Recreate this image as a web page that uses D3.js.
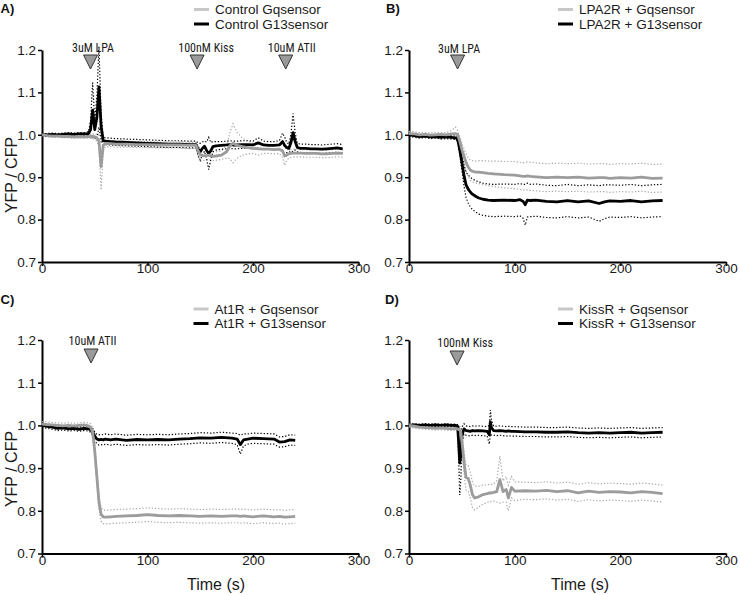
<!DOCTYPE html>
<html><head><meta charset="utf-8">
<script src="https://cdn.jsdelivr.net/npm/d3@7"></script>
<style>
body{margin:0;background:#fff;}
svg{display:block;font-family:"Liberation Sans",Arial,Helvetica,sans-serif;}
</style></head><body>
<svg id="chart" width="740" height="595"></svg>
<script>
// ---------------- DATA ----------------
const xTicks = [0, 100, 200, 300];
const yTicks = [0.7, 0.8, 0.9, 1.0, 1.1, 1.2];

// Panel A: Control
const timeA = [0,5,10,15,20,25,30,35,40,44,46,48,50,52,54,56,58,60,65,70,80,90,100,110,120,130,140,146,148,150,152,154,156,158,160,162,165,170,175,178,181,185,190,195,200,205,210,215,220,225,228,230,232,234,236,238,240,242,245,250,255,260,265,270,275,280,285];
const ctrlG13 = [1.000,1.000,1.001,1.000,1.001,1.002,1.001,1.002,1.002,
 1.003,1.012,1.058,1.012,1.040,1.113,1.020,0.986,0.985,
 0.984,0.983,0.982,0.981,0.980,0.979,0.978,0.978,0.977,
 0.977,0.966,0.960,0.968,0.973,0.963,0.956,0.962,0.972,
 0.974,0.975,0.976,0.977,0.976,0.976,0.977,0.977,0.976,
 0.981,0.976,0.975,0.975,0.976,0.984,0.975,0.970,0.968,
 0.982,1.005,0.984,0.970,0.968,0.968,0.967,0.967,0.966,
 0.967,0.968,0.969,0.967];
const ctrlG13Sem = [0.003,0.003,0.003,0.003,0.003,0.003,0.003,0.003,0.003,
 0.004,0.020,0.065,0.020,0.050,0.095,0.030,0.010,0.008,
 0.008,0.008,0.008,0.008,0.008,0.008,0.008,0.008,0.008,
 0.008,0.015,0.020,0.015,0.012,0.020,0.038,0.020,0.012,
 0.010,0.009,0.009,0.009,0.009,0.009,0.009,0.009,0.009,
 0.012,0.009,0.009,0.009,0.010,0.020,0.020,0.012,0.010,
 0.020,0.045,0.020,0.010,0.010,0.010,0.010,0.010,0.010,
 0.010,0.010,0.010,0.010];
const ctrlGq = [1.000,0.998,0.997,0.997,0.996,0.996,0.995,0.996,0.995,
 0.996,0.997,0.997,0.995,0.993,0.985,0.925,0.975,0.980,
 0.979,0.978,0.978,0.977,0.977,0.976,0.976,0.976,0.975,
 0.975,0.962,0.953,0.951,0.950,0.951,0.952,0.950,0.949,
 0.950,0.952,0.960,0.974,0.980,0.975,0.972,0.970,0.968,
 0.967,0.966,0.966,0.965,0.966,0.962,0.950,0.952,0.955,
 0.956,0.957,0.957,0.957,0.957,0.956,0.956,0.956,0.955,
 0.955,0.956,0.957,0.956];
const ctrlGqSem = [0.003,0.003,0.003,0.003,0.003,0.003,0.003,0.003,0.003,
 0.004,0.005,0.006,0.006,0.008,0.015,0.055,0.015,0.008,
 0.007,0.007,0.007,0.007,0.007,0.007,0.007,0.007,0.007,
 0.007,0.012,0.015,0.012,0.010,0.010,0.010,0.010,0.010,
 0.010,0.010,0.015,0.030,0.046,0.030,0.020,0.015,0.012,
 0.015,0.010,0.010,0.010,0.010,0.015,0.022,0.012,0.010,
 0.009,0.009,0.009,0.009,0.009,0.009,0.009,0.009,0.009,
 0.009,0.009,0.009,0.009];
const annoTimesA = [46, 147, 231];
const annoLabelsA = ["3uM LPA", "100nM Kiss", "10uM ATII"];

// Panel B: LPA2R
const timeB = [0,5,10,15,20,25,30,35,40,44,46,48,50,52,54,56,58,60,63,66,70,75,80,90,100,105,108,110,112,115,120,130,140,150,160,170,180,185,190,200,210,220,230,240];
const lpaG13 = [1.000,0.998,0.996,0.997,0.995,0.996,0.994,0.995,0.994,
 0.993,0.990,0.965,0.935,0.905,0.882,0.872,0.865,0.860,
 0.855,0.851,0.848,0.846,0.845,0.846,0.845,0.847,0.843,
 0.835,0.846,0.845,0.846,0.843,0.842,0.845,0.842,0.844,
 0.838,0.842,0.844,0.843,0.845,0.842,0.844,0.845];
const lpaG13Sem = [0.004,0.004,0.004,0.004,0.004,0.004,0.004,0.004,0.004,
 0.004,0.005,0.010,0.018,0.025,0.030,0.033,0.035,0.036,
 0.037,0.038,0.038,0.038,0.038,0.038,0.038,0.038,0.040,
 0.048,0.040,0.038,0.038,0.038,0.038,0.038,0.038,0.038,
 0.042,0.040,0.038,0.038,0.038,0.038,0.038,0.038];
const lpaGq = [1.003,1.002,1.000,1.001,0.999,1.000,1.001,1.000,1.002,
 1.003,1.000,0.985,0.965,0.950,0.935,0.924,0.917,0.914,
 0.912,0.912,0.911,0.909,0.908,0.906,0.905,0.903,0.902,
 0.902,0.903,0.902,0.901,0.899,0.900,0.899,0.900,0.898,
 0.899,0.899,0.897,0.899,0.898,0.900,0.897,0.898];
const lpaGqSem = [0.005,0.005,0.005,0.005,0.005,0.005,0.005,0.005,0.008,
 0.015,0.010,0.012,0.015,0.018,0.020,0.022,0.024,0.025,
 0.026,0.027,0.028,0.029,0.030,0.031,0.032,0.032,0.032,
 0.033,0.033,0.033,0.033,0.033,0.033,0.033,0.033,0.033,
 0.033,0.033,0.033,0.033,0.033,0.033,0.033,0.033];
const annoTimesB = [46];
const annoLabelsB = ["3uM LPA"];

// Panel C: At1R
const timeC = [0,5,10,15,20,25,30,35,40,44,46,48,50,52,54,56,58,60,65,70,80,90,100,110,120,130,140,150,160,170,180,185,188,191,195,200,210,220,225,230,235,240];
const atG13 = [1.000,0.998,0.996,0.993,0.994,0.992,0.993,0.991,0.993,
 0.992,0.990,0.985,0.975,0.968,0.966,0.967,0.966,0.968,
 0.966,0.968,0.965,0.967,0.966,0.967,0.966,0.968,0.969,
 0.971,0.970,0.972,0.970,0.968,0.955,0.966,0.968,0.970,
 0.969,0.968,0.961,0.962,0.966,0.965];
const atG13Sem = [0.005,0.005,0.005,0.005,0.005,0.005,0.005,0.005,0.005,
 0.005,0.006,0.008,0.010,0.011,0.012,0.012,0.012,0.012,
 0.012,0.012,0.012,0.012,0.012,0.012,0.012,0.012,0.012,
 0.012,0.012,0.012,0.012,0.013,0.022,0.014,0.012,0.012,
 0.012,0.012,0.012,0.012,0.012,0.012];
const atGq = [1.003,1.002,1.001,1.000,0.999,1.000,0.999,1.000,1.001,
 0.999,0.996,0.985,0.940,0.880,0.820,0.792,0.786,0.785,
 0.786,0.787,0.788,0.789,0.791,0.789,0.788,0.789,0.788,
 0.787,0.788,0.787,0.788,0.788,0.787,0.788,0.787,0.786,
 0.788,0.786,0.787,0.785,0.786,0.787];
const atGqSem = [0.006,0.006,0.006,0.006,0.006,0.006,0.006,0.006,0.006,
 0.007,0.008,0.010,0.012,0.014,0.015,0.016,0.016,0.016,
 0.016,0.016,0.016,0.016,0.016,0.016,0.016,0.016,0.016,
 0.016,0.016,0.016,0.016,0.016,0.016,0.016,0.016,0.016,
 0.016,0.016,0.016,0.016,0.016,0.016];
const annoTimesC = [46.5];
const annoLabelsC = ["10uM ATII"];

// Panel D: KissR
const timeD = [0,5,10,15,20,25,30,35,40,44,46,47,48,49,50,52,54,56,58,60,62,65,70,74,76,77,78,80,83,86,89,92,94,97,100,110,120,130,140,150,160,170,180,190,200,210,220,230,240];
const kissG13 = [1.000,1.001,1.000,1.001,1.000,1.001,1.000,1.001,1.000,
 1.000,0.998,0.960,0.912,0.930,0.975,0.992,0.988,0.987,
 0.986,0.988,0.987,0.988,0.987,0.986,0.978,1.008,0.995,
 0.988,0.987,0.988,0.987,0.986,0.987,0.986,0.986,0.985,
 0.985,0.984,0.984,0.985,0.983,0.982,0.983,0.982,0.983,
 0.984,0.982,0.983,0.984];
const kissG13Sem = [0.003,0.003,0.003,0.003,0.003,0.003,0.003,0.003,0.003,
 0.003,0.004,0.040,0.075,0.060,0.020,0.012,0.011,0.011,
 0.011,0.011,0.011,0.011,0.011,0.011,0.022,0.028,0.018,
 0.011,0.011,0.011,0.011,0.011,0.011,0.011,0.011,0.011,
 0.011,0.011,0.011,0.011,0.011,0.011,0.011,0.011,0.011,
 0.011,0.011,0.011,0.011];
const kissGq = [1.000,0.998,0.996,0.995,0.994,0.993,0.994,0.993,0.992,
 0.993,0.992,0.990,0.990,0.985,0.965,0.915,0.878,0.876,
 0.860,0.838,0.830,0.832,0.838,0.840,0.842,0.841,0.842,
 0.843,0.845,0.873,0.845,0.850,0.830,0.855,0.846,0.847,
 0.846,0.848,0.845,0.847,0.842,0.846,0.843,0.845,0.844,
 0.842,0.845,0.843,0.840];
const kissGqSem = [0.004,0.004,0.004,0.004,0.004,0.004,0.004,0.004,0.004,
 0.004,0.005,0.006,0.008,0.010,0.015,0.025,0.030,0.030,
 0.030,0.030,0.028,0.025,0.022,0.021,0.020,0.020,0.020,
 0.020,0.025,0.055,0.025,0.030,0.030,0.025,0.022,0.020,
 0.020,0.020,0.020,0.020,0.020,0.020,0.020,0.020,0.020,
 0.020,0.020,0.020,0.020];
const annoTimesD = [45.5];
const annoLabelsD = ["100nM Kiss"];

// ---------------- LAYOUT / STYLE ----------------
const panels = [
  {letter:"A)", lx:0.5, ly:12.5, x0:42, x1:358.5, yTop:50, yBot:262,
   time:timeA, g13:ctrlG13, g13Sem:ctrlG13Sem, gq:ctrlGq, gqSem:ctrlGqSem,
   legend:["Control Gqsensor","Control G13sensor"], legX:194, legY:9.5,
   annoT:annoTimesA, annoL:annoLabelsA, annoDx:[2.5,9,6], textY:51.5, triTop:55,
   yLabel:{x:16.5, y:175}, xLabel:null},
  {letter:"B)", lx:386, ly:12.5, x0:409, x1:726, yTop:50, yBot:262,
   time:timeB, g13:lpaG13, g13Sem:lpaG13Sem, gq:lpaGq, gqSem:lpaGqSem,
   legend:["LPA2R + Gqsensor","LPA2R + G13sensor"], legX:558, legY:9.5,
   annoT:annoTimesB, annoL:annoLabelsB, annoDx:[1.5], textY:53, triTop:55,
   yLabel:null, xLabel:null},
  {letter:"C)", lx:0.5, ly:303.5, x0:42, x1:358.5, yTop:340, yBot:553.5,
   time:timeC, g13:atG13, g13Sem:atG13Sem, gq:atGq, gqSem:atGqSem,
   legend:["At1R + Gqsensor","At1R + G13sensor"], legX:193.5, legY:309,
   annoT:annoTimesC, annoL:annoLabelsC, annoDx:[1.5], textY:345, triTop:349,
   yLabel:{x:16.5, y:469}, xLabel:{x:216, y:589.5}},
  {letter:"D)", lx:385, ly:303.5, x0:409, x1:726, yTop:340, yBot:553.5,
   time:timeD, g13:kissG13, g13Sem:kissG13Sem, gq:kissGq, gqSem:kissGqSem,
   legend:["KissR + Gqsensor","KissR + G13sensor"], legX:558, legY:309,
   annoT:annoTimesD, annoL:annoLabelsD, annoDx:[8], textY:347, triTop:351,
   yLabel:null, xLabel:{x:580, y:589.5}}
];

const GQ_COLOR = "#9c9c9c", GQ_DOT = "#a8a8a8", GQ_LEG = "#c8c8c8";
const G13_COLOR = "#000000";
const svg = d3.select("#chart");
const condensed = '"Liberation Sans Narrow","Arial Narrow","Roboto Condensed","DejaVu Sans Condensed",sans-serif';

panels.forEach(p => {
  const x = d3.scaleLinear().domain([0, 300]).range([p.x0, p.x1]);
  const y = d3.scaleLinear().domain([0.7, 1.2]).range([p.yBot, p.yTop]);
  const g = svg.append("g");

  // axes
  const ya = g.append("g").attr("transform", `translate(${p.x0},0)`)
    .call(d3.axisLeft(y).tickValues(yTicks).tickFormat(d3.format(".1f")).tickSize(4).tickSizeOuter(0).tickPadding(2));
  const xa = g.append("g").attr("transform", `translate(0,${p.yBot})`)
    .call(d3.axisBottom(x).tickValues(xTicks).tickSize(4).tickSizeOuter(0).tickPadding(-2.5));
  [ya, xa].forEach(a => {
    a.select(".domain").attr("stroke", "#000").attr("stroke-width", 2);
    a.selectAll(".tick line").attr("stroke", "#000").attr("stroke-width", 1.5);
    a.selectAll(".tick text").attr("font-size", 13.5).attr("fill", "#1a1a1a")
      .attr("font-family", '"Liberation Sans",Arial,sans-serif');
  });

  const rows = p.time.map((t, i) => ({t, g13: p.g13[i], g13s: p.g13Sem[i], gq: p.gq[i], gqs: p.gqSem[i]}));
  const ln = acc => d3.line().x(d => x(d.t)).y(d => y(acc(d)));

  const dotted = [
    {acc: d => d.gq + d.gqs, c: GQ_DOT}, {acc: d => d.gq - d.gqs, c: GQ_DOT},
    {acc: d => d.g13 + d.g13s, c: G13_COLOR}, {acc: d => d.g13 - d.g13s, c: G13_COLOR}
  ];
  dotted.forEach(s => {
    g.append("path").datum(rows).attr("d", ln(s.acc)).attr("fill", "none")
      .attr("stroke", s.c).attr("stroke-width", 1.2).attr("stroke-dasharray", "1.3,1.9");
  });
  g.append("path").datum(rows).attr("d", ln(d => d.g13)).attr("fill", "none")
    .attr("stroke", G13_COLOR).attr("stroke-width", 2.8).attr("stroke-linejoin", "round");
  g.append("path").datum(rows).attr("d", ln(d => d.gq)).attr("fill", "none")
    .attr("stroke", GQ_COLOR).attr("stroke-width", 2.8).attr("stroke-linejoin", "round");

  // annotations
  p.annoT.forEach((t, i) => {
    const cx = x(t);
    g.append("path")
      .attr("d", `M${cx - 7},${p.triTop}L${cx + 7},${p.triTop}L${cx},${p.triTop + 14}Z`)
      .attr("fill", "#9a9a9a").attr("stroke", "#333").attr("stroke-width", 1);
    g.append("text").attr("x", cx + p.annoDx[i]).attr("y", p.textY)
      .attr("text-anchor", "middle").attr("font-size", 12).attr("fill", "#1a1a1a")
      .attr("font-family", condensed).text(p.annoL[i]);
  });

  // legend
  p.legend.forEach((lab, i) => {
    const ly = p.legY + i * 14.5;
    g.append("line").attr("x1", p.legX).attr("x2", p.legX + 15).attr("y1", ly).attr("y2", ly)
      .attr("stroke", i === 0 ? GQ_LEG : G13_COLOR).attr("stroke-width", 3);
    g.append("text").attr("x", p.legX + 21).attr("y", ly).attr("dy", "0.36em")
      .attr("font-size", 13.5).attr("fill", "#1a1a1a").text(lab);
  });

  // panel letter
  g.append("text").attr("x", p.lx).attr("y", p.ly).attr("font-size", 13)
    .attr("font-weight", "bold").attr("fill", "#111").text(p.letter);

  if (p.yLabel) {
    g.append("text").attr("transform", `translate(${p.yLabel.x},${p.yLabel.y}) rotate(-90)`)
      .attr("text-anchor", "middle").attr("font-size", 16).attr("fill", "#1a1a1a").text("YFP / CFP");
  }
  if (p.xLabel) {
    g.append("text").attr("x", p.xLabel.x).attr("y", p.xLabel.y)
      .attr("text-anchor", "middle").attr("font-size", 16).attr("fill", "#1a1a1a").text("Time (s)");
  }
});
</script>
</body></html>
